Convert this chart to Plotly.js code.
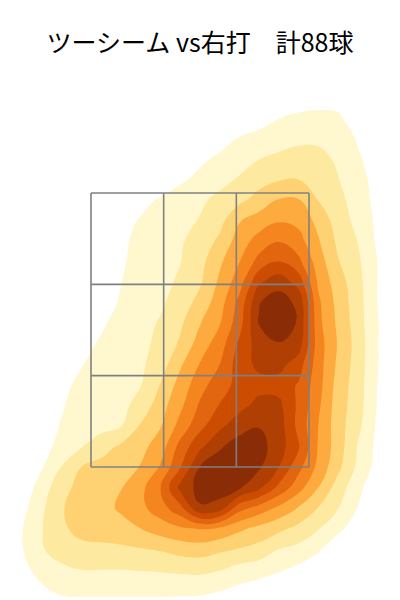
<!DOCTYPE html>
<html>
<head>
<meta charset="utf-8">
<script src="https://cdn.plot.ly/plotly-3.0.1.min.js"></script>
<style>html,body{margin:0;padding:0;background:#fff;}</style>
</head>
<body>
<div id="chart" style="width:400px;height:600px;"></div>
<script>
// Horizontal pitch location (ft), catcher's view
const plateX = [-1.5,-1.35,-1.2,-1.05,-0.9,-0.75,-0.6,-0.45,-0.3,-0.15,0,0.15,0.3,0.45,0.6,0.75,0.9,1.05,1.2,1.35,1.5];
// Vertical pitch location (ft), listed top to bottom
const plateZ = [4.35,4.2,4.05,3.9,3.75,3.6,3.45,3.3,3.15,3.0,2.85,2.7,2.55,2.4,2.25,2.1,1.95,1.8,1.65,1.5,1.35,1.2,1.05,0.9,0.75,0.6,0.45];
// Density level (1 = outermost band ... 9 = darkest core), rows follow plateZ
const densityRows = [
 [0,0,0,0,0,0,0,0,0,0,0,0,0,0,0,0,0,0,0,0,0],
 [0,0,0,0,0,0,0,0,0,0,0,0,0,0.1,0.3,0.55,0.62,0.6,0.4,0.1,0],
 [0,0,0,0,0,0,0,0,0,0,0,0,0.1,0.5,0.97,1.15,1.22,1.15,0.5,0,0],
 [0,0,0,0,0,0,0,0,0,0,0,0.55,1.06,1.35,1.6,1.78,1.8,1.65,0.9,0.2,0],
 [0,0,0,0,0,0,0,0,0,0.4,0.8,1.2,1.59,1.98,2.2,2.38,2.3,1.85,1.15,0.5,0],
 [0,0,0,0,0,0,0,0,0.41,0.83,1.26,1.69,2.1,2.6,2.9,2.98,2.75,2.05,1.35,0.65,0],
 [0,0,0,0,0,0,0.38,0.74,1.1,1.46,1.82,2.25,2.75,3.38,4.05,4.05,2.97,2.3,1.54,0.7,0],
 [0,0,0,0,0,0.4,0.74,1.07,1.39,1.7,2.06,2.66,3.93,4.45,4.9,4.7,3.7,2.52,1.72,0.8,0],
 [0,0,0,0,0.19,0.53,0.86,1.2,1.54,1.88,2.43,3.2,4.49,5.4,5.95,5.4,4.1,2.8,1.98,0.85,0],
 [0,0,0,0,0.21,0.56,0.91,1.26,1.62,1.97,2.67,3.82,4.97,6.35,7.0,6.25,4.5,3.07,2.19,1.0,0.2],
 [0,0,0,0,0.26,0.62,0.99,1.35,1.72,2.15,2.86,4.2,5.54,7.85,8.6,7.6,4.85,3.47,2.36,1.0,0.2],
 [0,0,0,0,0.33,0.71,1.08,1.47,1.85,2.45,3.35,4.55,6.3,8.95,9.5,8.75,5.2,3.67,2.44,1.0,0.2],
 [0,0,0,0.12,0.5,0.89,1.28,1.66,2.1,2.83,3.95,4.93,6.6,9.05,9.6,8.9,5.3,3.8,2.5,1.05,0.25],
 [0,0,0,0.45,0.78,1.1,1.43,1.76,2.25,3.15,4.47,5.5,7.2,8.5,8.95,8.5,5.5,3.92,2.6,1.05,0.25],
 [0,0,0.37,0.67,0.97,1.26,1.55,1.84,2.5,3.85,5.05,6.0,7.5,8.25,8.35,7.5,5.45,3.8,2.55,1.05,0.25],
 [0,0,0.57,0.86,1.14,1.42,1.7,1.98,3.05,4.4,5.6,6.6,7.3,7.65,7.6,6.9,5.4,3.6,2.5,1.0,0.2],
 [0,0,0.65,0.96,1.23,1.51,1.78,2.3,3.59,4.77,6.14,7.05,7.67,8.3,8.25,6.8,5.2,3.5,2.45,0.95,0.2],
 [0,0,0.73,1.05,1.36,1.67,1.97,3.12,3.94,5.36,6.7,7.77,8.6,8.95,8.5,6.7,5.0,3.45,2.28,0.85,0.15],
 [0,0,0.7,1.31,1.94,2.58,3.18,3.69,4.5,6.35,7.77,8.88,9.45,9.4,8.45,7.12,4.92,3.5,1.96,0.75,0.15],
 [0,0,0.95,2.05,3.01,3.34,3.68,4.05,5.1,6.95,9.05,9.5,9.6,9.15,8.0,6.32,4.72,3.26,1.79,0.65,0.1],
 [0,0.35,1.5,2.74,3.28,3.62,3.97,4.7,6.0,8.3,9.35,9.6,9.15,8.23,6.75,5.4,4.0,2.54,1.32,0.2,0],
 [0,0.7,1.85,2.95,3.35,3.71,4.13,4.75,5.55,6.7,8.9,8.5,6.4,5.6,4.78,3.93,2.96,2.05,0.97,0,0],
 [0,0.98,1.98,2.85,3.3,3.45,3.7,4.0,4.5,4.85,5.05,4.8,4.2,3.7,3.24,2.7,2.06,1.27,0.4,0,0],
 [0,0.97,1.9,2.7,2.75,2.77,2.8,2.95,3.1,3.4,3.5,3.2,2.95,2.65,2.0,1.73,1.15,0.3,0,0,0],
 [0,0.75,1.35,1.7,2.0,2.0,2.0,2.05,2.1,2.2,2.25,2.05,1.64,1.4,1.13,0.75,0.3,0,0,0,0],
 [0,0.2,0.85,1.2,1.3,1.3,1.3,1.3,1.3,1.25,1.2,1.05,0.75,0.5,0.2,0,0,0,0,0,0],
 [0,0,0,0.4,0.4,0.4,0.4,0.4,0.4,0.4,0.4,0.3,0,0,0,0,0,0,0,0,0]
];
// Band colours, outermost to core
const levelColors = ['#fff8cf','#fee9a1','#fed173','#fdaa3e','#f5861f','#e2650f','#cc4c02','#b03f04','#8a2c05'];
// Strike zone edges (ft)
const zoneX = [-0.83, 0.83];
const zoneZ = [1.5, 3.5];
const titleText = 'ツーシーム vs右打　計88球';

// ---- build ----
const zAsc = plateZ.slice().reverse();
const gridAsc = densityRows.slice().reverse();
const nBands = levelColors.length;
const colorscale = [[0, '#ffffff']];
levelColors.forEach((c, i) => colorscale.push([(i + 1) / nBands, c]));

const contour = {
  type: 'contour',
  x: plateX,
  y: zAsc,
  z: gridAsc,
  autocontour: false,
  contours: {start: 1, end: nBands, size: 1, coloring: 'fill', showlines: false},
  line: {width: 0, smoothing: 1.3},
  colorscale: colorscale,
  showscale: false,
  hoverinfo: 'skip'
};

const shapes = [];
const gridStyle = {color: '#808080', width: 1.6};
for (let i = 0; i <= 3; i++) {
  const xv = zoneX[0] + (zoneX[1] - zoneX[0]) * i / 3;
  shapes.push({type: 'line', xref: 'x', yref: 'y', x0: xv, x1: xv, y0: zoneZ[0], y1: zoneZ[1], line: gridStyle, layer: 'above'});
  const zv = zoneZ[0] + (zoneZ[1] - zoneZ[0]) * i / 3;
  shapes.push({type: 'line', xref: 'x', yref: 'y', x0: zoneX[0], x1: zoneX[1], y0: zv, y1: zv, line: gridStyle, layer: 'above'});
}

const layout = {
  width: 400,
  height: 600,
  margin: {l: 0, r: 0, t: 0, b: 0},
  paper_bgcolor: '#ffffff',
  plot_bgcolor: '#ffffff',
  title: {
    text: titleText,
    x: 0.5, xanchor: 'center',
    y: 1 - 43 / 600, yref: 'container', yanchor: 'middle',
    font: {family: '"Noto Sans CJK JP", "Noto Sans", sans-serif', size: 25, color: '#000000'}
  },
  xaxis: {range: [-1.5229, 1.5229], visible: false, fixedrange: true},
  yaxis: {range: [0.5292, 4.9088], visible: false, fixedrange: true},
  shapes: shapes,
  showlegend: false
};

Plotly.newPlot('chart', [contour], layout, {staticPlot: true, displayModeBar: false});
</script>
</body>
</html>
